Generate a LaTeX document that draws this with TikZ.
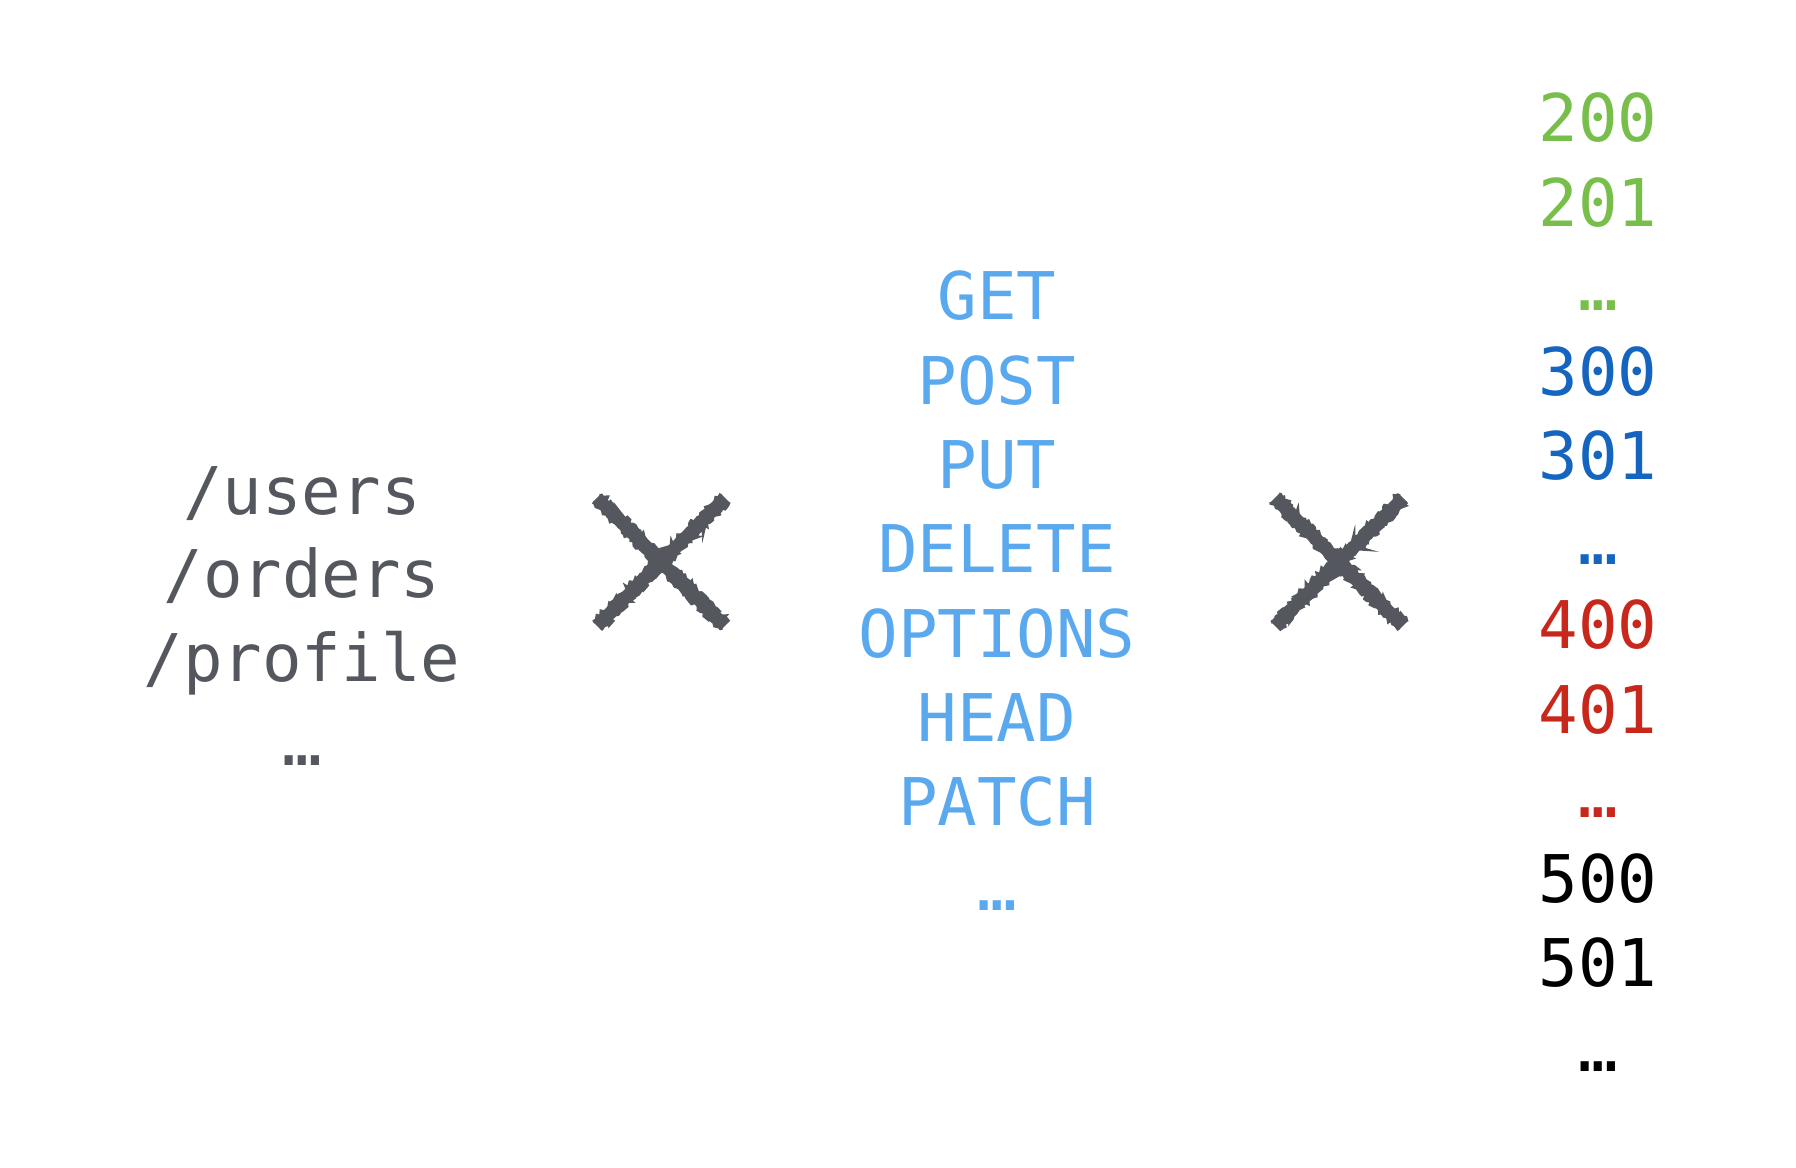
\documentclass[tikz,border=0pt]{standalone}
\usepackage{fontspec}
\setmonofont{DejaVu Sans Mono}
\usetikzlibrary{decorations.pathmorphing}

\definecolor{pathgray}{RGB}{84,88,94}
\definecolor{methodblue}{RGB}{90,169,239}
\definecolor{okgreen}{RGB}{119,191,74}
\definecolor{redirblue}{RGB}{21,101,192}
\definecolor{errred}{RGB}{200,40,28}

\begin{document}
\begin{tikzpicture}[x=0.01cm, y=-0.01cm]
	\tikzstyle{label} = [anchor=base, inner sep=0pt, font=\ttfamily\fontsize{18.7}{22}\selectfont]
	\tikzstyle{cross} = [draw=pathgray, line width=3.6pt]
	\tikzstyle{fuzz}  = [draw=pathgray, line width=1pt, decorate, decoration={random steps, segment length=0.7pt, amplitude=0.6pt}]
	\pgfmathsetseed{7}
	\useasboundingbox (0,0) rectangle (1796,1168);

	% resources
	\foreach \name/\y in {users/515, orders/598, profile/682}
		\node[label, text=pathgray] (\name) at (302, \y) {/\name};
	\node[label, text=pathgray] (moreres) at (302, 766) {…};

	% methods
	\foreach \text [count=\i] in {GET, POST, PUT, DELETE, OPTIONS, HEAD, PATCH, …}
		\node[label, text=methodblue] (m\i) at (997, {320+84.3*(\i-1)}) {\text};

	% status codes
	\foreach \text/\col [count=\i] in {200/okgreen, 201/okgreen, …/okgreen, 300/redirblue, 301/redirblue, …/redirblue, 400/errred, 401/errred, …/errred, 500/black, 501/black, …/black}
		\node[label, text=\col] (c\i) at (1598, {142+84.5*(\i-1)}) {\text};

	% the two crosses
	\foreach \x in {661, 1339} {
		\path[cross] (\x-64, 498) -- (\x+64, 626);
		\path[cross] (\x+64, 498) -- (\x-64, 626);
		\foreach \d in {-4, 4} {
			\path[fuzz] (\x-64+\d, 498-\d) -- (\x+64+\d, 626-\d);
			\path[fuzz] (\x+64+\d, 498+\d) -- (\x-64+\d, 626+\d);
		}
	}
\end{tikzpicture}
\end{document}
